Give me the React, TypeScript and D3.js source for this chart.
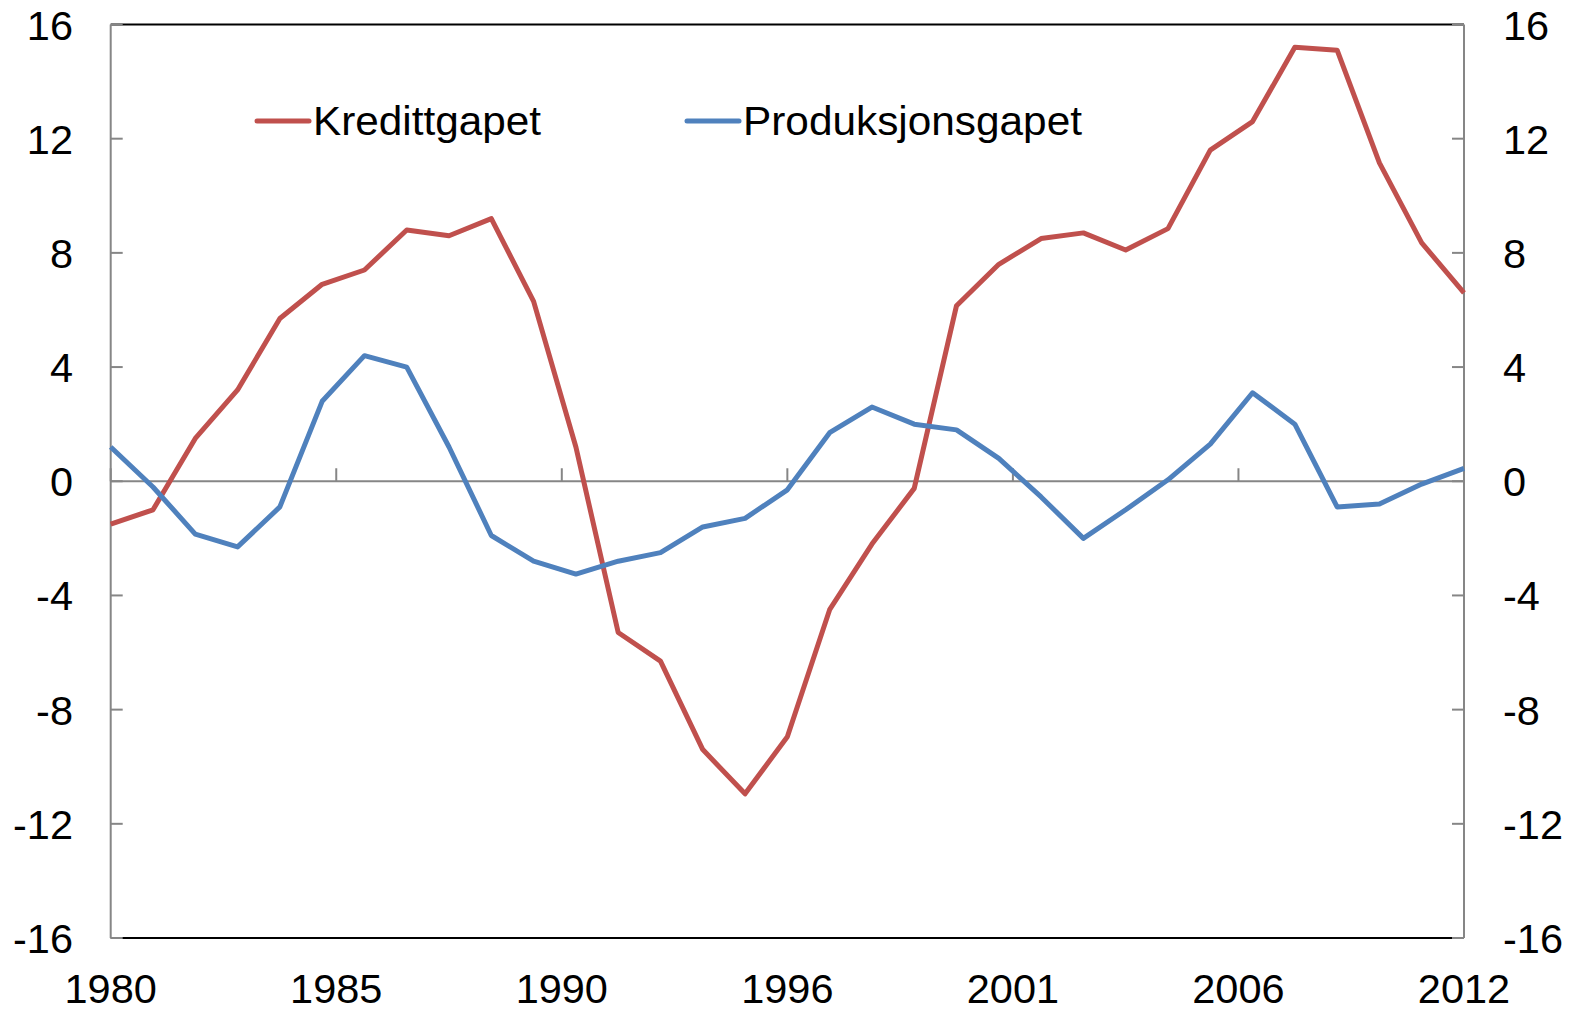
import React, { useMemo } from 'react';
import * as d3 from 'd3';

// Årlige data 1980–2012
const years = d3.range(1980, 2013);

const kredittgapet = [
  -1.5, -1.0, 1.5, 3.2, 5.7, 6.9, 7.4, 8.8, 8.6, 9.2,
  6.3, 1.2, -5.3, -6.3, -9.4, -10.95, -8.95, -4.5, -2.2, -0.25,
  6.15, 7.6, 8.5, 8.7, 8.1, 8.85, 11.6, 12.6, 15.2, 15.1,
  11.15, 8.35, 6.6,
];

const produksjonsgapet = [
  1.2, -0.2, -1.85, -2.3, -0.9, 2.8, 4.4, 4.0, 1.2, -1.9,
  -2.8, -3.25, -2.8, -2.5, -1.6, -1.3, -0.3, 1.7, 2.6, 2.0,
  1.8, 0.8, -0.55, -2.0, -1.0, 0.05, 1.3, 3.1, 2.0, -0.9,
  -0.8, -0.1, 0.45,
];

const xTickLabels = ['1980', '1985', '1990', '1996', '2001', '2006', '2012'];
const yTicks = [-16, -12, -8, -4, 0, 4, 8, 12, 16];

const series = [
  { name: 'Kredittgapet', values: kredittgapet, color: '#C0504D' },
  { name: 'Produksjonsgapet', values: produksjonsgapet, color: '#4F81BD' },
];

const W = 1573;
const H = 1011;
const FONT = '"Liberation Sans", Arial, sans-serif';

export default function App() {
  const left = 110.7;
  const right = 1464;
  const top = 24.5;
  const bottom = 938;

  const x = useMemo(() => d3.scaleLinear().domain([0, years.length - 1]).range([left, right]), []);
  const y = useMemo(() => d3.scaleLinear().domain([-16, 16]).range([bottom, top]), []);

  const line = d3.line<number>()
    .x((_, i) => x(i))
    .y(d => y(d));

  const tickStep = (years.length - 1) / (xTickLabels.length - 1);
  const grey = '#868686';

  return (
    <svg width={W} height={H} style={{ position: 'absolute', left: 0, top: 0, background: '#fff' }}>
      {/* ramme */}
      <line x1={left} x2={right} y1={top} y2={top} stroke="#000" strokeWidth={2} />
      <line x1={left} x2={right} y1={bottom} y2={bottom} stroke="#000" strokeWidth={2} />
      <line x1={left} x2={left} y1={top} y2={bottom} stroke={grey} strokeWidth={2} />
      <line x1={right} x2={right} y1={top} y2={bottom} stroke={grey} strokeWidth={2} />

      {/* y-akser */}
      {yTicks.map(t => (
        <g key={t}>
          <line x1={left} x2={left + 12} y1={y(t)} y2={y(t)} stroke={grey} strokeWidth={2} />
          <line x1={right - 12} x2={right} y1={y(t)} y2={y(t)} stroke={grey} strokeWidth={2} />
          <text x={73} y={y(t) + 15} textAnchor="end" fontSize={41.5} fontFamily={FONT} fill="#000">{t}</text>
          <text x={1503} y={y(t) + 15} textAnchor="start" fontSize={41.5} fontFamily={FONT} fill="#000">{t}</text>
        </g>
      ))}

      {/* nullinje og x-akse */}
      <line x1={left} x2={right} y1={y(0)} y2={y(0)} stroke={grey} strokeWidth={2} />
      {xTickLabels.map((lab, k) => (
        <g key={lab}>
          <line x1={x(k * tickStep)} x2={x(k * tickStep)} y1={y(0)} y2={y(0) - 13} stroke={grey} strokeWidth={2} />
          <text x={x(k * tickStep)} y={1003} textAnchor="middle" fontSize={41.5} fontFamily={FONT} fill="#000">{lab}</text>
        </g>
      ))}

      {/* serier */}
      {series.map(s => (
        <path key={s.name} d={line(s.values) || ''} fill="none" stroke={s.color} strokeWidth={5} strokeLinejoin="round" />
      ))}

      {/* legend */}
      {series.map((s, i) => {
        const lx = i === 0 ? 257 : 687;
        return (
          <g key={s.name}>
            <line x1={lx} x2={lx + 52} y1={121} y2={121} stroke={s.color} strokeWidth={5} strokeLinecap="round" />
            <text x={lx + 56} y={135} fontSize={41} fontFamily={FONT} fill="#000" textLength={i === 0 ? 228 : 339} lengthAdjust="spacingAndGlyphs">{s.name}</text>
          </g>
        );
      })}
    </svg>
  );
}
